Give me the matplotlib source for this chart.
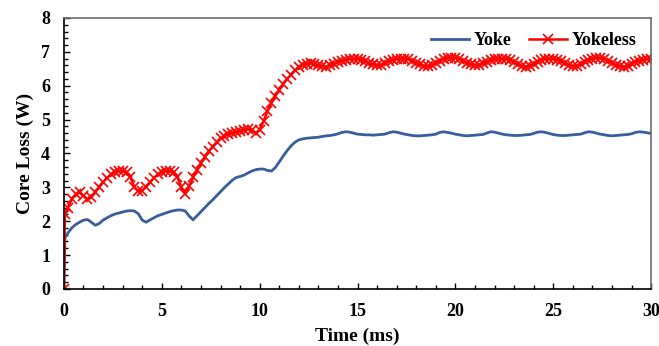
import matplotlib
matplotlib.use('Agg')
import matplotlib.pyplot as plt
import numpy as np
from matplotlib.ticker import MultipleLocator

plt.rcParams['font.family'] = ['Liberation Serif', 'DejaVu Serif']
plt.rcParams['font.weight'] = 'bold'

# time axis (ms): start, a point right after the jump, then every 0.2 ms
time = np.concatenate(([0.0, 0.05], np.round(np.arange(0.2, 30.01, 0.2), 2)))

# core loss with yoke (W)
yoke = [0.0, 1.5,
        1.65, 1.8, 1.9, 1.97, 2.03, 2.05, 1.97, 1.88, 1.93, 2.03,
        2.1, 2.16, 2.21, 2.24, 2.27, 2.3, 2.31, 2.3, 2.22, 2.03,
        1.97, 2.04, 2.1, 2.16, 2.2, 2.24, 2.28, 2.31, 2.33, 2.33,
        2.3, 2.15, 2.04, 2.16, 2.28, 2.4, 2.52, 2.63, 2.75, 2.87,
        2.99, 3.1, 3.21, 3.29, 3.32, 3.36, 3.42, 3.48, 3.52, 3.54,
        3.54, 3.5, 3.48, 3.58, 3.75, 3.92, 4.08, 4.22, 4.33, 4.4,
        4.43, 4.45, 4.46, 4.47, 4.48, 4.5, 4.52, 4.53, 4.55, 4.58,
        4.62, 4.64, 4.63, 4.6, 4.57, 4.56, 4.55, 4.55, 4.54, 4.55,
        4.56, 4.57, 4.61, 4.64, 4.63, 4.6, 4.57, 4.55, 4.53, 4.52,
        4.52, 4.53, 4.54, 4.55, 4.57, 4.62, 4.64, 4.62, 4.6, 4.57,
        4.55, 4.53, 4.52, 4.53, 4.54, 4.55, 4.56, 4.6, 4.64, 4.63,
        4.6, 4.57, 4.55, 4.54, 4.53, 4.53, 4.54, 4.55, 4.56, 4.59,
        4.63, 4.64, 4.62, 4.59, 4.56, 4.54, 4.53, 4.53, 4.54, 4.55,
        4.56, 4.57, 4.61, 4.64, 4.63, 4.6, 4.57, 4.55, 4.53, 4.52,
        4.53, 4.54, 4.55, 4.56, 4.58, 4.62, 4.64, 4.63, 4.61, 4.59]

# core loss without yoke (W)
yokeless = [0.0, 2.2,
            2.4, 2.65, 2.8, 2.85, 2.75, 2.65, 2.7, 2.85, 3.0, 3.15,
            3.28, 3.38, 3.44, 3.47, 3.47, 3.44, 3.3, 3.0, 2.88, 2.9,
            3.02, 3.15, 3.28, 3.38, 3.44, 3.47, 3.47, 3.44, 3.3, 3.0,
            2.8, 3.05, 3.3, 3.5, 3.72, 3.9, 4.07, 4.2, 4.33, 4.45,
            4.52, 4.57, 4.6, 4.64, 4.66, 4.7, 4.72, 4.68, 4.6, 4.7,
            4.95, 5.25, 5.5, 5.7, 5.87, 6.05, 6.2, 6.32, 6.45, 6.55,
            6.62, 6.65, 6.66, 6.64, 6.6, 6.57, 6.56, 6.6, 6.65, 6.7,
            6.73, 6.77, 6.79, 6.8, 6.8, 6.77, 6.72, 6.66, 6.63, 6.61,
            6.62, 6.67, 6.72, 6.76, 6.79, 6.8, 6.8, 6.78, 6.74, 6.68,
            6.63, 6.59, 6.58, 6.62, 6.68, 6.74, 6.78, 6.81, 6.83, 6.82,
            6.79, 6.74, 6.68, 6.64, 6.61, 6.62, 6.66, 6.71, 6.75, 6.78,
            6.8, 6.8, 6.79, 6.75, 6.69, 6.63, 6.58, 6.56, 6.59, 6.65,
            6.71, 6.76, 6.79, 6.8, 6.8, 6.77, 6.72, 6.66, 6.61, 6.58,
            6.59, 6.65, 6.71, 6.77, 6.8, 6.83, 6.82, 6.79, 6.74, 6.68,
            6.62, 6.58, 6.56, 6.59, 6.65, 6.7, 6.74, 6.77, 6.79, 6.8]

fig = plt.figure(figsize=(6.59, 3.46), dpi=100)
ax = fig.add_axes([0.097, 0.165, 0.891, 0.783])

ax.plot(time, yoke, color='#3A5D9C', lw=2, label='Yoke')
ax.plot(time, yokeless, color='#FF0000', lw=1.8, marker='x', ms=7, mew=1.2,
        label='Yokeless')

ax.set_xlim(0, 30)
ax.set_ylim(0, 8)
ax.xaxis.set_major_locator(MultipleLocator(5))
ax.xaxis.set_minor_locator(MultipleLocator(1))
ax.yaxis.set_major_locator(MultipleLocator(1))
ax.yaxis.set_minor_locator(MultipleLocator(0.2))
ax.tick_params(which='both', direction='in', top=False, right=False,
               labelsize=13, width=1, color='black', pad=10)
ax.tick_params(which='major', length=4)
ax.tick_params(which='minor', length=3)
for lab in ax.get_xticklabels() + ax.get_yticklabels():
    lab.set_fontweight('bold')

for s in ['left', 'bottom']:
    ax.spines[s].set_color('black')
    ax.spines[s].set_linewidth(1.2)
for s in ['top', 'right']:
    ax.spines[s].set_color('#6b6b6b')
    ax.spines[s].set_linewidth(1.2)

ax.set_xlabel('Time (ms)', fontsize=14, fontweight='bold', labelpad=6)
ax.set_ylabel('Core Loss (W)', fontsize=14, fontweight='bold', labelpad=5)

ax.legend(loc='upper right', ncol=2, frameon=False, fontsize=13,
          handlelength=2.1, columnspacing=1.0, handletextpad=0.25,
          borderaxespad=0.4)

fig.savefig('out.png', dpi=100)
